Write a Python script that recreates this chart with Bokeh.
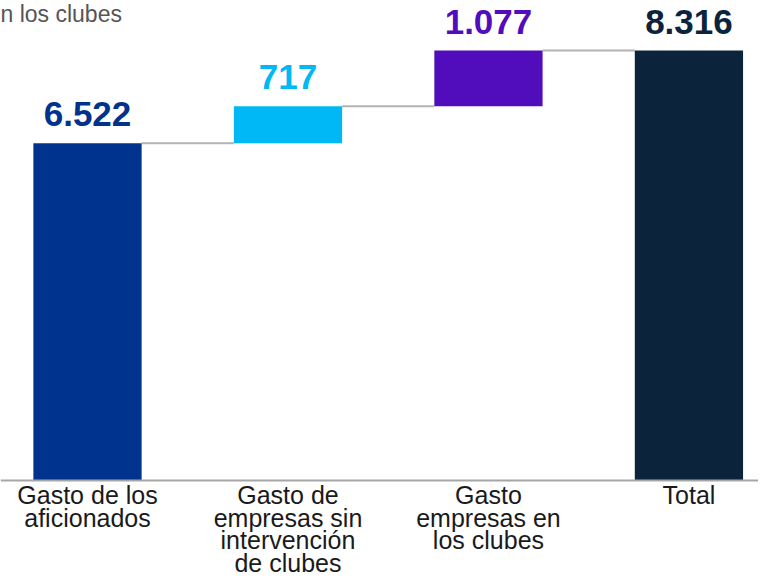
from bokeh.plotting import figure
from bokeh.models import Range1d, ColumnDataSource, Label, Span
from bokeh.core.properties import value
from bokeh.embed import file_html
from bokeh.resources import INLINE

categories = ["Gasto de los\naficionados",
              "Gasto de\nempresas sin\nintervención\nde clubes",
              "Gasto\nempresas en\nlos clubes",
              "Total"]
values = [6522, 717, 1077]
total = 8316
colors = ["#00338D", "#00B8F5", "#510DBC", "#0C233C"]
subtitle = "n los clubes"

# waterfall geometry from values
bottoms, tops = [], []
run = 0
for v in values:
    bottoms.append(run)
    run += v
    tops.append(run)
bottoms.append(0)
tops.append(total)
amounts = values + [total]
labels = [f"{v:,}".replace(",", ".") for v in amounts]
xs = list(range(len(categories)))

W, H = 758, 580
X0, X1 = -0.434, 3.347
Y0, Y1 = -1934, 9283
p = figure(width=W, height=H, output_backend="svg", toolbar_location=None,
           x_range=Range1d(X0, X1), y_range=Range1d(Y0, Y1),
           min_border=0)
p.outline_line_color = None
p.background_fill_color = "white"
p.border_fill_color = "white"
p.xgrid.visible = False
p.ygrid.visible = False
p.xaxis.visible = False
p.yaxis.visible = False

bw = 0.54
# connectors
cx0 = [i + bw / 2 for i in xs[:-1]]
cx1 = [i + 1 - bw / 2 for i in xs[:-1]]
cy = tops[:-1]
p.segment(x0=cx0, y0=cy, x1=cx1, y1=cy, line_color="#b3b3b3", line_width=2)

src = ColumnDataSource(dict(x=xs, bottom=bottoms, top=tops, color=colors,
                            label=labels, cat=categories, zero=[0] * len(xs)))
p.vbar(x="x", bottom="bottom", top="top", width=bw, fill_color="color",
       line_color=None, source=src)
p.text(x="x", y="top", text="label", source=src, text_color="color",
       text_font=value("Liberation Sans"), text_font_style="bold",
       text_font_size="35px", text_align="center", text_baseline="alphabetic",
       y_offset=-29)

# baseline axis line
p.add_layout(Span(location=0, dimension="width", line_color="#a6a6a6", line_width=2))

# category labels
p.text(x="x", y="zero", text="cat", source=src, text_color="#1a1a1a",
       text_font=value("Liberation Sans"), text_font_size="25px",
       text_align="center", text_baseline="top", text_line_height=0.8,
       y_offset=1)

p.add_layout(Label(x=X0, y=Y1, text=subtitle, text_font="Liberation Sans",
                   text_font_size="23px", text_color="#555555",
                   text_baseline="top", text_align="left", y_offset=0))

open("out.html", "w").write(file_html(p, INLINE))
